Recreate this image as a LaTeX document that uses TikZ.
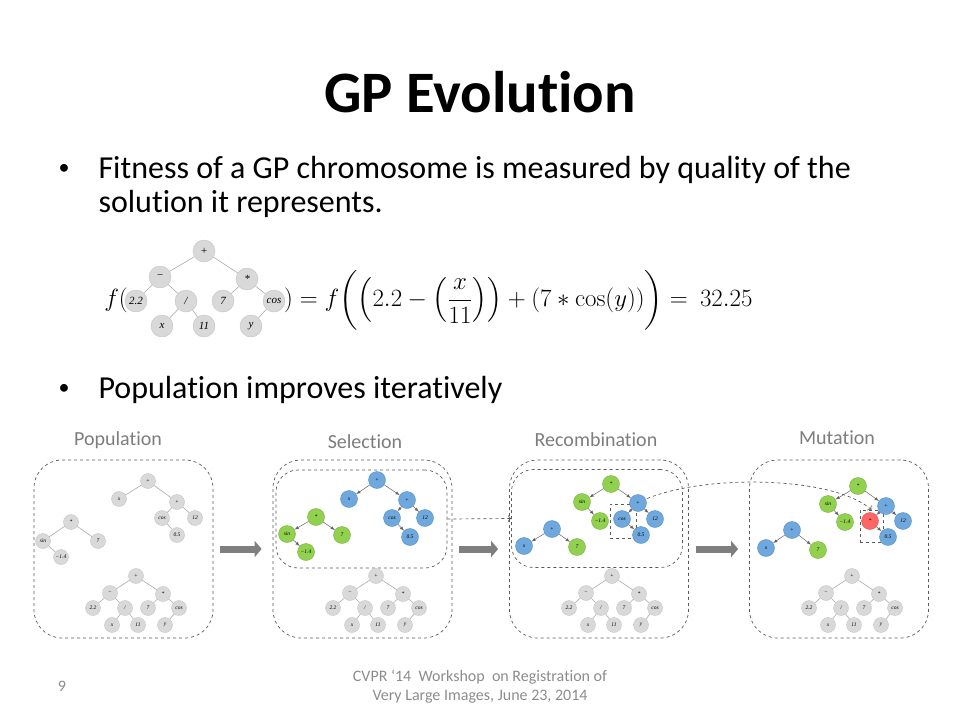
\documentclass[tikz,border=0pt]{standalone}
\usepackage{amsmath}
\usepackage[no-math]{fontspec}
\setmainfont{Carlito}[Ligatures=NoCommon]
\newfontfamily\treefont{Liberation Serif}
\usepackage{tikz}
\usetikzlibrary{arrows,arrows.meta,positioning,calc}

\definecolor{nodegray}{RGB}{217,217,217}
\definecolor{ringgray}{RGB}{196,196,196}
\definecolor{nodeblue}{RGB}{111,168,220}
\definecolor{ringblue}{RGB}{84,141,199}
\definecolor{nodegreen}{RGB}{146,208,80}
\definecolor{ringgreen}{RGB}{118,178,58}
\definecolor{nodered}{RGB}{255,102,102}
\definecolor{ringred}{RGB}{220,80,80}
\definecolor{edgegray}{RGB}{170,170,170}
\definecolor{edgedark}{RGB}{100,100,100}
\definecolor{dashgray}{RGB}{90,90,90}
\definecolor{arrowgray}{RGB}{127,127,127}
\definecolor{labgray}{RGB}{125,125,125}
\definecolor{footgray}{RGB}{140,140,140}

\begin{document}
\begin{tikzpicture}[x=1pt,y=-1pt,
    gnode/.style={circle,draw=ringgray,fill=nodegray,inner sep=0pt,minimum size=15pt,
        font=\treefont\itshape\fontsize{5.5}{6}\selectfont},
    bignode/.style={gnode,minimum size=22pt,font=\treefont\itshape\fontsize{11}{12}\selectfont},
    bnode/.style={gnode,minimum size=17pt,draw=ringblue,fill=nodeblue},
    grnode/.style={gnode,minimum size=17pt,draw=ringgreen,fill=nodegreen},
    rnode/.style={gnode,minimum size=17pt,draw=ringred,fill=nodered},
    gedge/.style={draw=edgegray,line width=0.6pt},
    cedge/.style={draw=edgedark,line width=0.5pt,-latex},
    panel/.style={draw=dashgray,dashed,line width=0.7pt,rounded corners=28pt,
        minimum width=179pt,minimum height=178pt},
    inbox/.style={draw=dashgray,dashed,line width=0.7pt,rounded corners=22pt,
        minimum width=171pt,minimum height=98pt},
    cutbox/.style={draw=dashgray,dashed,line width=0.7pt},
    blockarrow/.style={draw=arrowgray,line width=7pt,-{Triangle[length=7pt,width=16pt]},
        shorten <=7pt,shorten >=11pt},
    lab/.style={text=labgray,font=\fontsize{20}{24}\selectfont},
    bullet/.style={anchor=base,font=\fontsize{22}{26}\selectfont},
    body/.style={anchor=base west,font=\fontsize{32}{38}\selectfont}]
    \useasboundingbox (0,0) rectangle (960,720);

    % Title and bullets
    \node[anchor=base,font=\bfseries\fontsize{58.7}{70}\selectfont] (title) at (480,112) {GP Evolution};
    \node[bullet] (bull1) at (64,174) {•};
    \node[body] (line1) at (95,178) {Fitness of a GP chromosome is measured by quality of the};
    \node[body] (line2) at (95,212) {solution it represents.};
    \node[bullet] (bull2) at (64,394) {•};
    \node[body] (line3) at (95,398) {Population improves iteratively};

    %%% Formula
    \node[font=\fontsize{26}{30}\selectfont] (fopen) at (116,300) {$f($};
    \node[bignode] (fplus) at (204,251) {+};
    \node[bignode] (fminus) at (160,277) {−};
    \node[bignode] (ftimes) at (247,279) {*};
    \node[bignode] (ftwo) at (136,301) {2.2};
    \node[bignode] (fdiv) at (186,301) {/};
    \node[bignode] (fseven) at (223,301) {7};
    \node[bignode] (fcos) at (274,301) {cos};
    \node[bignode] (fx) at (162,326) {x};
    \node[bignode] (feleven) at (204,326) {11};
    \node[bignode] (fy) at (251,326) {y};
    \draw[gedge] (fplus) -- (fminus);
    \draw[gedge] (fplus) -- (ftimes);
    \draw[gedge] (fminus) -- (ftwo);
    \draw[gedge] (fminus) -- (fdiv);
    \draw[gedge] (fdiv) -- (fx);
    \draw[gedge] (fdiv) -- (feleven);
    \draw[gedge] (ftimes) -- (fseven);
    \draw[gedge] (ftimes) -- (fcos);
    \draw[gedge] (fcos) -- (fy);
    \node[anchor=west,inner sep=0pt,font=\fontsize{23.5}{28}\selectfont] (frest) at (284,300)
        {$)=f\biggl(\left(2.2-\left(\dfrac{x}{11}\right)\right)+(7*\cos(y))\biggr)=\ 32.25$};

    %%% Panels
    \node[panel] (panA) at (123.5,549) {};
    \node[panel] (panB) at (362.5,549) {};
    \node[panel] (panC) at (599,549) {};
    \node[panel] (panD) at (839,549) {};
    \node[inbox] (sel) at (361.5,519) {};
    \node[inbox] (rec) at (597,518.5) {};
    \node[cutbox,minimum width=26pt,minimum height=34pt] (box3) at (623,521) {};
    \node[cutbox,minimum width=23pt,minimum height=32pt] (box4) at (871.5,526) {};

    % Labels
    \node[lab] (labA) at (118,440) {Population};
    \node[lab] (labB) at (365,442) {Selection};
    \node[lab] (labC) at (596,440) {Recombination};
    \node[lab] (labD) at (837,438) {Mutation};

    % Arrows between panels
    \draw[blockarrow] (panA.east) -- (panB.west);
    \draw[blockarrow] (panB.east) -- (panC.west);
    \draw[blockarrow] (panC.east) -- (panD.west);
    \draw[dashgray,dashed,line width=0.7pt,->] (sel.east) -- (rec.west);
    \draw[dashgray,dashed,line width=0.7pt,->] (box3.north east) .. controls (690,474) and (830,474) .. (box4.north);

    %%% Gray tree in every panel
    \foreach \p/\sx in {a/136,b/376,c/612,d/852}{
        \begin{scope}[shift={(\sx,576)}]
            \node[gnode] (\p-root) at (0,0) {+};
            \node[gnode] (\p-minus) at (-26,17) {−};
            \node[gnode] (\p-times) at (27,18) {*};
            \node[gnode] (\p-two) at (-43,32) {2.2};
            \node[gnode] (\p-div) at (-11,32) {/};
            \node[gnode] (\p-seven) at (12,32) {7};
            \node[gnode] (\p-cos) at (43,32) {cos};
            \node[gnode] (\p-x) at (-24,49) {x};
            \node[gnode] (\p-eleven) at (2,49) {11};
            \node[gnode] (\p-y) at (29,49) {y};
        \end{scope}
        \draw[gedge] (\p-root) -- (\p-minus);
        \draw[gedge] (\p-root) -- (\p-times);
        \draw[gedge] (\p-minus) -- (\p-two);
        \draw[gedge] (\p-minus) -- (\p-div);
        \draw[gedge] (\p-div) -- (\p-x);
        \draw[gedge] (\p-div) -- (\p-eleven);
        \draw[gedge] (\p-times) -- (\p-seven);
        \draw[gedge] (\p-times) -- (\p-cos);
        \draw[gedge] (\p-cos) -- (\p-y);
    }

    %%% Population
    \node[gnode] (aplus) at (148,481) {+};
    \node[gnode] (ax) at (119,499) {x};
    \node[gnode] (aplustwo) at (177,502) {+};
    \node[gnode] (acos) at (162,518) {cos};
    \node[gnode] (atwelve) at (195,518) {12};
    \node[gnode] (ahalf) at (177,535) {0.5};
    \node[gnode] (atimes) at (71,522) {*};
    \node[gnode] (asin) at (43,541) {sin};
    \node[gnode] (aseven) at (98,541) {7};
    \node[gnode] (aneg) at (61,557) {−1.4};
    \draw[gedge] (aplus) -- (ax);
    \draw[gedge] (aplus) -- (aplustwo);
    \draw[gedge] (aplustwo) -- (acos);
    \draw[gedge] (aplustwo) -- (atwelve);
    \draw[gedge] (acos) -- (ahalf);
    \draw[gedge] (atimes) -- (asin);
    \draw[gedge] (atimes) -- (aseven);
    \draw[gedge] (asin) -- (aneg);

    %%% Selection
    \node[bnode] (bplus) at (377,480) {+};
    \node[bnode] (bx) at (349,499) {x};
    \node[bnode] (bplustwo) at (407,500) {+};
    \node[bnode] (bcos) at (392,518) {cos};
    \node[bnode] (btwelve) at (425,518) {12};
    \node[bnode] (bhalf) at (410,537) {0.5};
    \node[grnode] (btimes) at (316,517) {*};
    \node[grnode] (bsin) at (287,534) {sin};
    \node[grnode] (bseven) at (342,535) {7};
    \node[grnode] (bneg) at (306,552) {−1.4};
    \draw[cedge] (bplus) -- (bx);
    \draw[cedge] (bplus) -- (bplustwo);
    \draw[cedge] (bplustwo) -- (bcos);
    \draw[cedge] (bplustwo) -- (btwelve);
    \draw[cedge] (bcos) -- (bhalf);
    \draw[cedge] (btimes) -- (bsin);
    \draw[cedge] (btimes) -- (bseven);
    \draw[cedge] (bsin) -- (bneg);

    %%% Recombination
    \node[grnode] (ctimes) at (611,484) {*};
    \node[grnode] (csin) at (582,502) {sin};
    \node[grnode] (cneg) at (600,521) {−1.4};
    \node[bnode] (cplustwo) at (638,503) {+};
    \node[bnode] (ccos) at (622,519) {cos};
    \node[bnode] (ctwelve) at (655,519) {12};
    \node[bnode] (chalf) at (641,535) {0.5};
    \node[bnode] (cplus) at (552,529) {+};
    \node[bnode] (cx) at (524,546) {x};
    \node[grnode] (cseven) at (577,547) {7};
    \draw[cedge] (ctimes) -- (csin);
    \draw[cedge] (csin) -- (cneg);
    \draw[cedge] (ctimes) -- (cplustwo);
    \draw[cedge] (cplustwo) -- (ccos);
    \draw[cedge] (cplustwo) -- (ctwelve);
    \draw[cedge] (ccos) -- (chalf);
    \draw[cedge] (cplus) -- (cx);
    \draw[cedge] (cplus) -- (cseven);

    %%% Mutation
    \node[grnode] (dtimes) at (858,486) {*};
    \node[grnode] (dsin) at (828,504) {sin};
    \node[grnode] (dneg) at (845,522) {−1.4};
    \node[bnode] (dplustwo) at (886,506) {+};
    \node[rnode] (dmut) at (870,521) {*};
    \node[bnode] (dtwelve) at (903,521) {12};
    \node[bnode] (dhalf) at (888,537) {0.5};
    \node[bnode] (dplus) at (792,530) {+};
    \node[bnode] (dx) at (766,548) {x};
    \node[grnode] (dseven) at (818,550) {7};
    \draw[cedge] (dtimes) -- (dsin);
    \draw[cedge] (dsin) -- (dneg);
    \draw[cedge] (dtimes) -- (dplustwo);
    \draw[cedge] (dplustwo) -- (dmut);
    \draw[cedge] (dplustwo) -- (dtwelve);
    \draw[cedge] (dmut) -- (dhalf);
    \draw[cedge] (dplus) -- (dx);
    \draw[cedge] (dplus) -- (dseven);

    % Footer
    \node[text=footgray,align=center,font=\fontsize{16}{19}\selectfont] (footer) at (480,687)
        {CVPR ‘14~~Workshop~~on Registration of\\Very Large Images, June 23, 2014};
    \node[text=footgray,font=\fontsize{16}{19}\selectfont] (pageno) at (62,686) {9};
\end{tikzpicture}
\end{document}
